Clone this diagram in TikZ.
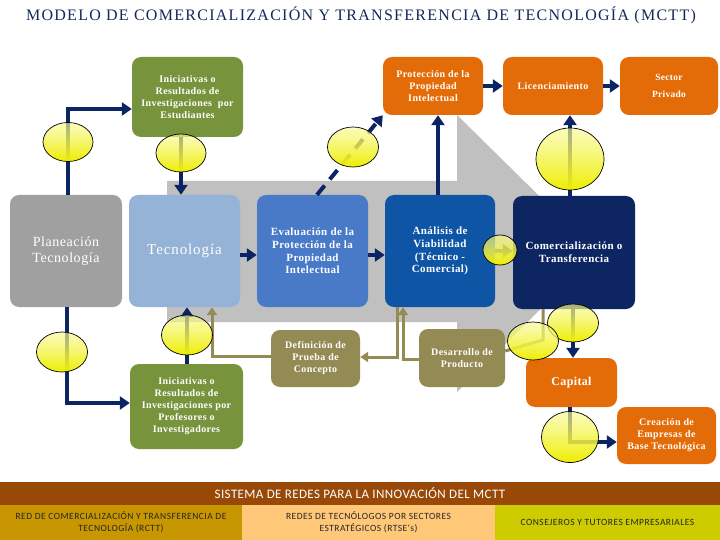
\documentclass[tikz,border=0pt]{standalone}
\usepackage{fontspec}
\setmainfont{Liberation Serif}
\newfontfamily\calibfont{Carlito}
\usetikzlibrary{arrows.meta,fadings}

\definecolor{navyline}{RGB}{10,36,100}
\definecolor{titlenavy}{RGB}{20,40,90}
\definecolor{grayarrow}{RGB}{192,192,192}
\definecolor{plangray}{RGB}{160,160,160}
\definecolor{lightblue}{RGB}{149,179,215}
\definecolor{midblue}{RGB}{72,122,200}
\definecolor{deepblue}{RGB}{15,85,165}
\definecolor{darknavy}{RGB}{13,38,97}
\definecolor{leafgreen}{RGB}{119,147,60}
\definecolor{burnt}{RGB}{227,108,9}
\definecolor{khaki}{RGB}{148,138,84}
\definecolor{bandbrown}{RGB}{152,72,7}
\definecolor{gold}{RGB}{200,150,0}
\definecolor{peach}{RGB}{255,200,120}
\definecolor{lime}{RGB}{204,204,0}
\definecolor{bulbtop}{RGB}{250,250,150}
\definecolor{bulbbot}{RGB}{238,238,0}

\tikzfading[name=bulbfade, top color=transparent!35, bottom color=transparent!0]

\newcommand\spaced[1]{\addfontfeature{LetterSpace=#1}}

\tikzset{
  box/.style={rounded corners=9pt, text=white, align=center, inner sep=2pt},
  small/.style={font=\fontsize{10}{12}\selectfont\bfseries\spaced{4}},
  big/.style={font=\fontsize{11}{12.8}\selectfont\bfseries\spaced{4}},
  navyarrow/.style={draw=navyline, line width=4pt, -{Triangle[width=13pt,length=10pt]}},
  olivearrow/.style={draw=khaki, line width=3pt, -{Triangle[width=10pt,length=8pt]}},
  bulb/.style={draw=black, line width=0.7pt, preaction={top color=bulbtop, bottom color=bulbbot, path fading=bulbfade}},
  foot/.style={text=black!85, align=center, inner sep=0pt, font=\calibfont\fontsize{9.5}{12}\selectfont\spaced{5}}
}

\begin{document}
\begin{tikzpicture}[x=1pt, y=-1pt]
\useasboundingbox[fill=white] (0,0) rectangle (720,540);

% title
\node[text=titlenavy, font=\fontsize{16}{18}\selectfont\spaced{8}] (title) at (361,15) {MODELO DE COMERCIALIZACIÓN Y TRANSFERENCIA DE TECNOLOGÍA (MCTT)};

% gray arrow behind the chain
\fill[grayarrow] (167,181) -- (457,181) -- (457,115) -- (597,253) -- (457,392) -- (457,322) -- (167,322) -- cycle;

% main chain
\node[box, fill=plangray, minimum width=112pt, minimum height=112pt, font=\fontsize{14}{16.5}\selectfont\spaced{4}] (plan) at (66,251) {Planeación\\Tecnología};
\node[box, fill=lightblue, minimum width=111pt, minimum height=112pt, font=\fontsize{15}{17}\selectfont\spaced{6}] (tecno) at (184.5,251) {Tecnología};
\node[box, big, fill=midblue, minimum width=111pt, minimum height=112pt] (evalpi) at (312.5,251) {Evaluación de la\\Protección de la\\Propiedad\\Intelectual};
\node[box, big, fill=deepblue, minimum width=110pt, minimum height=112pt] (viab) at (440,251) {Análisis de\\Viabilidad\\(Técnico -\\Comercial)};
\node[box, big, fill=darknavy, minimum width=122pt, minimum height=113pt] (comer) at (574,252.5) {Comercialización o\\Transferencia};

% upper row
\node[box, small, fill=leafgreen, minimum width=111pt, minimum height=80pt] (estud) at (187.5,97) {Iniciativas o\\Resultados de\\Investigaciones\ \ por\\Estudiantes};
\node[box, small, fill=burnt, minimum width=100pt, minimum height=58pt] (protpi) at (433,86) {Protección de la\\Propiedad\\Intelectual};
\node[box, small, fill=burnt, minimum width=100pt, minimum height=58pt] (licen) at (553,86) {Licenciamiento};
\node[box, fill=burnt, minimum width=98pt, minimum height=58pt, font=\fontsize{9.5}{17}\selectfont\bfseries\spaced{3}] (sector) at (669,86) {Sector\\Privado};

% lower row
\node[box, small, fill=khaki, minimum width=89pt, minimum height=57pt] (prueba) at (315.5,358.5) {Definición de\\Prueba de\\Concepto};
\node[box, small, fill=khaki, minimum width=86pt, minimum height=58pt] (desarr) at (462,358) {Desarrollo de\\Producto};
\node[box, small, fill=leafgreen, minimum width=113pt, minimum height=85pt] (profes) at (186.5,406.5) {Iniciativas o\\Resultados de\\Investigaciones por\\Profesores o\\Investigadores};
\node[box, fill=burnt, minimum width=91pt, minimum height=49pt, font=\fontsize{12}{14}\selectfont\bfseries\spaced{3}] (capital) at (571.5,382.5) {Capital};
\node[box, small, fill=burnt, minimum width=99pt, minimum height=57pt] (creacion) at (666.5,435.5) {Creación de\\Empresas de\\Base Tecnológica};

% bulb centres
\coordinate (b1) at (68,142);
\coordinate (b2) at (181,153);
\coordinate (b3) at (353,147);
\coordinate (b4) at (570,159);
\coordinate (b5) at (500,250);
\coordinate (b6) at (187,335);
\coordinate (b7) at (62,352);
\coordinate (b8) at (573,323);
\coordinate (b9) at (533,341);
\coordinate (b10) at (570,437);

% navy connectors
\draw[navyarrow] (plan.north -| b1) |- ([yshift=-12pt]estud.west);
\draw[navyarrow] (estud.south -| b2) -- (tecno.north -| b2);
\draw[navyarrow] ([xshift=1pt]plan.south) |- ([yshift=3.5pt]profes.west);
\draw[navyarrow] (profes.north -| b6) -- (tecno.south -| b6);
\draw[navyarrow] ([yshift=-4pt]tecno.east) -- ([yshift=-4pt]evalpi.west);
\draw[navyarrow] ([yshift=-4pt]evalpi.east) -- ([yshift=-4pt]viab.west);
\draw[navyarrow, dash pattern=on 12pt off 8pt] ([xshift=4.5pt]evalpi.north) -- (protpi.south west);
\draw[navyarrow] ([xshift=-2pt]viab.north) -- ([xshift=5pt]protpi.south);
\draw[navyarrow] (protpi.east) -- (licen.west);
\draw[navyarrow] (licen.east) -- (sector.west);
\draw[navyarrow] (comer.north -| b4) -- (licen.south -| b4);
\draw[navyarrow] (viab.east) -- (viab.east -| comer.west);
\draw[navyarrow] (comer.south -| b8) -- (capital.north -| b8);
\draw[navyarrow] (capital.south -| b10) |- ([yshift=-6.5pt]creacion.west);

% olive connectors
\draw[olivearrow] ([xshift=-43pt]viab.south) |- ([yshift=1.5pt]prueba.east);
\draw[olivearrow] ([yshift=-1pt]desarr.west) -| ([xshift=-37pt]viab.south);
\draw[olivearrow] ([yshift=2.5pt]prueba.west) -| ([xshift=27.5pt]tecno.south);
\draw[draw=khaki, line width=3pt] ([xshift=-31pt]comer.south) -- (543,340) -- ([yshift=7pt]desarr.east);

% bulbs
\path[bulb] (b1) ellipse [x radius=25, y radius=19.5];
\path[bulb] (b2) ellipse [x radius=25, y radius=19];
\path[bulb] (b3) ellipse [x radius=25.5, y radius=20];
\path[bulb] (b4) ellipse [x radius=34, y radius=31];
\path[bulb] (b5) ellipse [x radius=17, y radius=15];
\path[bulb] (b6) ellipse [x radius=25.5, y radius=20];
\path[bulb] (b7) ellipse [x radius=25.5, y radius=20];
\path[bulb] (b8) ellipse [x radius=25.5, y radius=19];
\path[bulb] (b9) ellipse [x radius=25.5, y radius=19];
\path[bulb] (b10) ellipse [x radius=28.5, y radius=25.5];

% network band
\node[fill=bandbrown, text=white, minimum width=720pt, minimum height=23pt, inner sep=0pt, font=\calibfont\fontsize{13}{14}\selectfont\spaced{3}] (sistema) at (360,493.5) {SISTEMA DE REDES PARA LA INNOVACIÓN DEL MCTT};
\node[foot, fill=gold, minimum width=242pt, minimum height=35pt] (rctt) at (121,522.5) {RED DE COMERCIALIZACIÓN Y TRANSFERENCIA DE\\TECNOLOGÍA (RCTT)};
\node[foot, fill=peach, minimum width=253pt, minimum height=35pt] (rtse) at (368.5,522.5) {REDES DE TECNÓLOGOS POR SECTORES\\ESTRATÉGICOS (RTSE's)};
\node[foot, fill=lime, minimum width=225pt, minimum height=35pt] (tutores) at (607.5,522.5) {CONSEJEROS Y TUTORES EMPRESARIALES};
\end{tikzpicture}
\end{document}
